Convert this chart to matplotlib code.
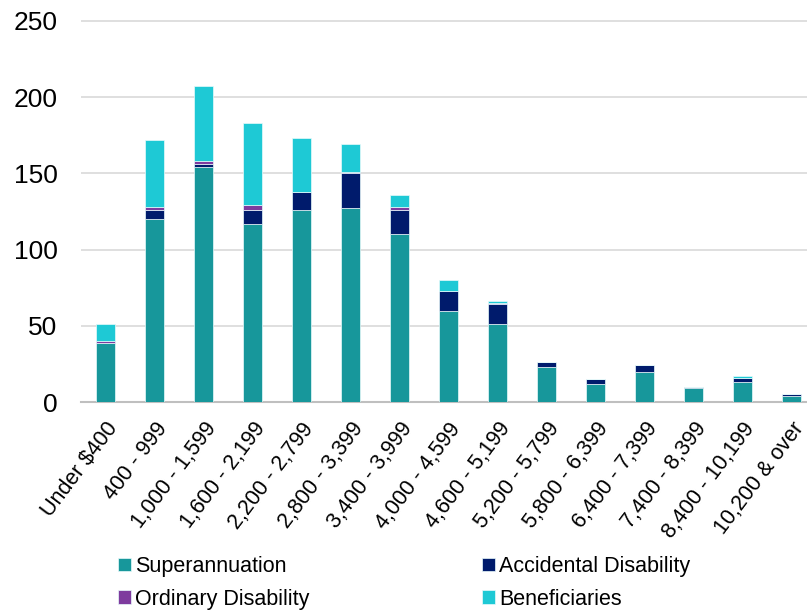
import matplotlib
matplotlib.use("Agg")
import matplotlib.pyplot as plt
import numpy as np

plt.rcParams["font.family"] = ["Liberation Sans", "DejaVu Sans"]

# Pension amount bands and counts per benefit type
bands = [
    "Under $400", "400 - 999", "1,000 - 1,599", "1,600 - 2,199",
    "2,200 - 2,799", "2,800 - 3,399", "3,400 - 3,999", "4,000 - 4,599",
    "4,600 - 5,199", "5,200 - 5,799", "5,800 - 6,399", "6,400 - 7,399",
    "7,400 - 8,399", "8,400 - 10,199", "10,200 & over",
]
superannuation = [39, 120, 154, 117, 126, 127, 110, 60, 51, 23, 12, 20, 9, 13, 4]
accidental = [0, 6, 2, 9, 12, 23, 16, 13, 13, 3, 3, 4, 1, 3, 1]
ordinary = [1, 2, 2, 3, 0, 1, 2, 0, 1, 0, 0, 0, 0, 0, 0]
beneficiaries = [11, 44, 49, 54, 35, 18, 8, 7, 1, 0, 0, 0, 0, 1, 0]

series = [
    ("Superannuation", superannuation, "#17979B"),
    ("Accidental Disability", accidental, "#001B6C"),
    ("Ordinary Disability", ordinary, "#7E3B9E"),
    ("Beneficiaries", beneficiaries, "#1EC9D5"),
]

fig = plt.figure(figsize=(8.07, 6.10), dpi=100)
ax = fig.add_axes([81 / 807, 1 - 402 / 610, 1 - 81 / 807, (402 - 20) / 610])

x = np.arange(len(bands))
bottom = np.zeros(len(bands))
handles = {}
for name, vals, color in series:
    vals = np.array(vals, dtype=float)
    h = ax.bar(x, vals, width=0.39, bottom=bottom, color=color,
               edgecolor="#E8FAFB", linewidth=0.5, label=name, zorder=3)
    handles[name] = h
    bottom += vals

ax.set_ylim(0, 250.6)
ax.set_xlim(-0.504, 14.31)
ax.set_yticks(range(0, 251, 50))
ax.yaxis.grid(True, color="#D9D9D9", linewidth=1.2, zorder=0)
ax.set_axisbelow(True)

for side in ("left", "right", "top"):
    ax.spines[side].set_visible(False)
ax.spines["bottom"].set_color("#BFBFBF")
ax.spines["bottom"].set_linewidth(1.5)

ax.tick_params(axis="y", length=0, pad=17, labelsize=19, labelcolor="#000000")
ax.tick_params(axis="x", length=0, pad=12, labelsize=15.5)
ax.set_xticks(x)
ax.set_xticklabels(bands, rotation=53, ha="right", va="top",
                   rotation_mode="anchor")

order = ["Superannuation", "Ordinary Disability",
         "Accidental Disability", "Beneficiaries"]
fig.legend([handles[n] for n in order], order, ncol=2, frameon=False,
           loc="upper left", bbox_to_anchor=(118 / 807, 1 - 556 / 610),
           fontsize=15.5, handlelength=0.6, handleheight=0.6,
           handletextpad=0.2, columnspacing=8.0, labelspacing=0.55,
           borderpad=0, borderaxespad=0)

fig.savefig("out.png", dpi=100)
